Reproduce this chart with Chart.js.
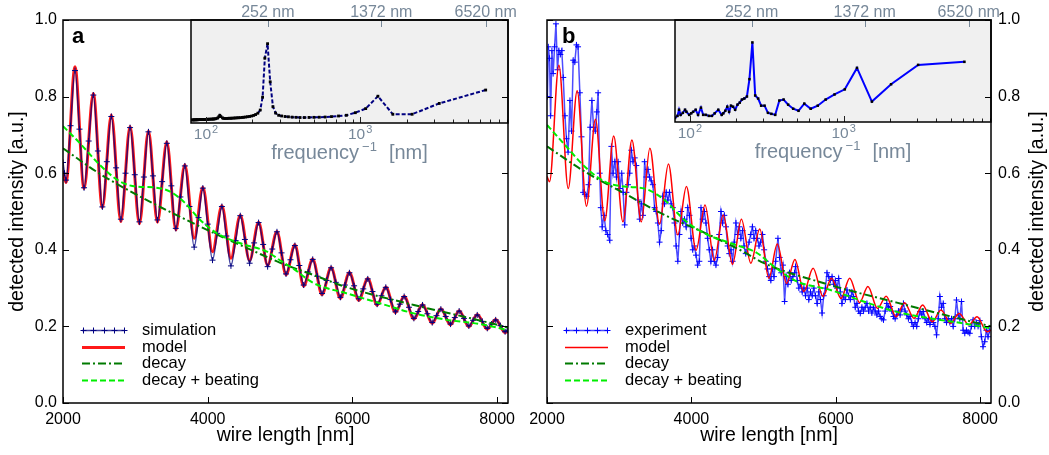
<!DOCTYPE html>
<html>
<head>
<meta charset="utf-8">
<title>Detected intensity vs wire length</title>
<script src="https://cdn.jsdelivr.net/npm/chart.js@4.4.1/dist/chart.umd.min.js"></script>
<style>
  html, body { margin: 0; padding: 0; background: #fff; }
  #figure { position: relative; width: 1049px; height: 455px; overflow: hidden; }
  #figure canvas { position: absolute; top: 0; }
</style>
</head>
<body>
<div id="figure">
  <canvas id="inset-a" width="350" height="180" style="left:180px"></canvas>
  <canvas id="inset-b" width="389" height="180" style="left:660px"></canvas>
  <canvas id="panel-a" width="530" height="455" style="left:0px"></canvas>
  <canvas id="panel-b" width="519" height="455" style="left:530px"></canvas>
</div>
<script>
const FONT = "'Liberation Sans', Arial, Helvetica, sans-serif";
const INSET_GREY = '#778899';

// axis ticks
const lengthTicks = [2000, 4000, 6000, 8000];
const intensityTicks = [0, 0.2, 0.4, 0.6, 0.8, 1.0];
const periodTicks = [100, 200, 300, 400, 500, 600, 700, 800, 900,
  1000, 2000, 3000, 4000, 5000, 6000, 7000, 8000, 9000];
const periodDecades = [100, 1000];
const markedPeriods = [252, 1372, 6520];
const markedPeriodLabels = ['252 nm', '1372 nm', '6520 nm'];

// panel a: simulated wire, [length nm, intensity]
const simulation = [
  [2000, 0.628], [2021, 0.600], [2042, 0.582], [2104, 0.724], [2166, 0.868], [2228, 0.715],
  [2291, 0.562], [2355, 0.684], [2419, 0.804], [2482, 0.658], [2544, 0.512], [2606, 0.630],
  [2668, 0.748], [2734, 0.614], [2800, 0.480], [2864, 0.600], [2927, 0.719], [2992, 0.596],
  [3056, 0.473], [3118, 0.590], [3181, 0.708], [3243, 0.593], [3305, 0.478], [3370, 0.578],
  [3435, 0.678], [3497, 0.567], [3559, 0.456], [3622, 0.538], [3684, 0.619], [3748, 0.513],
  [3813, 0.407], [3873, 0.484], [3933, 0.561], [4000, 0.467], [4066, 0.373], [4131, 0.443],
  [4196, 0.513], [4258, 0.436], [4321, 0.358], [4385, 0.424], [4450, 0.489], [4514, 0.427],
  [4579, 0.365], [4641, 0.418], [4703, 0.471], [4766, 0.414], [4828, 0.356], [4892, 0.402],
  [4957, 0.447], [5020, 0.392], [5082, 0.337], [5144, 0.374], [5205, 0.411], [5266, 0.359],
  [5326, 0.308], [5388, 0.342], [5451, 0.375], [5515, 0.331], [5580, 0.286], [5643, 0.320],
  [5705, 0.353], [5770, 0.315], [5834, 0.276], [5896, 0.308], [5958, 0.340], [6023, 0.306],
  [6088, 0.272], [6150, 0.298], [6212, 0.324], [6277, 0.291], [6342, 0.258], [6401, 0.280],
  [6461, 0.302], [6528, 0.270], [6595, 0.238], [6655, 0.258], [6715, 0.278], [6782, 0.250],
  [6849, 0.221], [6909, 0.239], [6969, 0.256], [7036, 0.233], [7103, 0.210], [7162, 0.228],
  [7222, 0.245], [7289, 0.226], [7356, 0.206], [7415, 0.223], [7475, 0.240], [7542, 0.221],
  [7609, 0.201], [7667, 0.216], [7725, 0.230], [7795, 0.213], [7864, 0.195], [7922, 0.206],
  [7980, 0.217], [8045, 0.202], [8110, 0.186], [8140, 0.190],
];
const modelA = [
  [2000, 0.605], [2042, 0.576], [2166, 0.878], [2291, 0.560], [2419, 0.808], [2544, 0.510],
  [2668, 0.752], [2800, 0.474], [2927, 0.722], [3056, 0.468], [3181, 0.710], [3305, 0.472],
  [3435, 0.682], [3559, 0.452], [3684, 0.622], [3813, 0.430], [3933, 0.563], [4066, 0.395],
  [4196, 0.515], [4321, 0.378], [4450, 0.490], [4579, 0.372], [4703, 0.472], [4828, 0.360],
  [4957, 0.448], [5082, 0.335], [5205, 0.413], [5326, 0.305], [5451, 0.376], [5580, 0.283],
  [5705, 0.354], [5834, 0.273], [5958, 0.341], [6088, 0.268], [6212, 0.325], [6342, 0.255],
  [6461, 0.303], [6595, 0.236], [6715, 0.279], [6849, 0.219], [6969, 0.257], [7103, 0.208],
  [7222, 0.246], [7356, 0.204], [7475, 0.241], [7609, 0.199], [7725, 0.231], [7864, 0.193],
  [7980, 0.218], [8110, 0.184], [8150, 0.188],
];
const decayA = [
  [2000, 0.665], [2512, 0.598], [3066, 0.539], [3619, 0.486], [4173, 0.436], [4726, 0.389],
  [5003, 0.366], [5464, 0.334], [5926, 0.302], [6849, 0.256], [7771, 0.215], [8150, 0.197],
];
const beatingA = [
  [2000, 0.723], [2235, 0.678], [2512, 0.621], [2789, 0.578], [3020, 0.565], [3250, 0.563],
  [3481, 0.552], [3665, 0.526], [3896, 0.478], [4127, 0.443], [4450, 0.417], [4819, 0.395],
  [5003, 0.372], [5188, 0.350], [5464, 0.313], [5926, 0.286], [6387, 0.260], [6849, 0.234],
  [7310, 0.217], [7771, 0.206], [8150, 0.190],
];

// panel b: measured wire, [length nm, intensity]
const experiment = [
  [2005, 0.80], [2018, 0.93], [2035, 0.90], [2050, 0.75], [2068, 0.92], [2085, 0.86],
  [2105, 0.93], [2124, 0.99], [2145, 0.87], [2165, 0.92], [2185, 0.91], [2205, 0.92],
  [2225, 0.85], [2248, 0.75], [2270, 0.69], [2292, 0.655], [2318, 0.79], [2340, 0.71],
  [2363, 0.895], [2385, 0.89], [2408, 0.935], [2430, 0.93], [2455, 0.81], [2478, 0.695],
  [2501, 0.55], [2525, 0.545], [2550, 0.54], [2575, 0.57], [2598, 0.72], [2622, 0.79],
  [2645, 0.72], [2668, 0.71], [2690, 0.76], [2708, 0.81], [2730, 0.60], [2745, 0.51],
  [2765, 0.46], [2790, 0.49], [2815, 0.45], [2840, 0.44], [2868, 0.425], [2892, 0.67],
  [2915, 0.60], [2940, 0.63], [2962, 0.59], [2985, 0.63], [3010, 0.56], [3035, 0.60],
  [3055, 0.55], [3076, 0.465], [3100, 0.55], [3122, 0.57], [3145, 0.60], [3168, 0.66],
  [3192, 0.63], [3215, 0.64], [3237, 0.62], [3260, 0.53], [3283, 0.48], [3306, 0.52],
  [3330, 0.49], [3352, 0.63], [3375, 0.59], [3398, 0.61], [3421, 0.59], [3444, 0.58],
  [3467, 0.57], [3490, 0.51], [3513, 0.50], [3536, 0.47], [3559, 0.42], [3582, 0.45],
  [3605, 0.54], [3628, 0.52], [3651, 0.55], [3674, 0.53], [3697, 0.55], [3720, 0.52],
  [3743, 0.51], [3766, 0.47], [3789, 0.41], [3812, 0.37], [3835, 0.44], [3858, 0.50],
  [3881, 0.47], [3904, 0.48], [3927, 0.46], [3950, 0.51], [3973, 0.49], [3996, 0.43],
  [4019, 0.40], [4042, 0.41], [4064, 0.386], [4087, 0.36], [4110, 0.37], [4133, 0.51],
  [4156, 0.48], [4179, 0.50], [4202, 0.47], [4225, 0.43], [4248, 0.40], [4270, 0.37],
  [4293, 0.40], [4317, 0.37], [4340, 0.36], [4363, 0.38], [4386, 0.44], [4410, 0.50],
  [4433, 0.47], [4456, 0.49], [4479, 0.46], [4502, 0.41], [4525, 0.39], [4548, 0.40],
  [4571, 0.37], [4594, 0.42], [4617, 0.47], [4640, 0.44], [4663, 0.46], [4686, 0.43],
  [4709, 0.45], [4730, 0.41], [4753, 0.39], [4776, 0.40], [4799, 0.42], [4822, 0.44],
  [4845, 0.46], [4868, 0.43], [4891, 0.45], [4914, 0.43], [4937, 0.41], [4960, 0.42],
  [4985, 0.44], [5008, 0.40], [5031, 0.37], [5054, 0.35], [5077, 0.33], [5100, 0.32],
  [5122, 0.35], [5144, 0.33], [5167, 0.37], [5199, 0.43], [5222, 0.38], [5245, 0.34],
  [5268, 0.36], [5291, 0.265], [5314, 0.33], [5337, 0.31], [5360, 0.34], [5383, 0.32],
  [5406, 0.33], [5429, 0.34], [5443, 0.356], [5466, 0.32], [5489, 0.30], [5512, 0.31],
  [5535, 0.29], [5558, 0.30], [5581, 0.28], [5604, 0.30], [5627, 0.27], [5650, 0.29],
  [5673, 0.28], [5696, 0.30], [5719, 0.28], [5742, 0.26], [5765, 0.29], [5788, 0.27],
  [5810, 0.235], [5833, 0.28], [5856, 0.30], [5879, 0.34], [5902, 0.33], [5925, 0.32],
  [5948, 0.33], [5971, 0.31], [5994, 0.32], [6017, 0.30], [6040, 0.325], [6063, 0.29],
  [6086, 0.26], [6109, 0.28], [6132, 0.27], [6155, 0.295], [6178, 0.28], [6201, 0.27],
  [6224, 0.29], [6247, 0.278], [6270, 0.25], [6293, 0.26], [6316, 0.24], [6339, 0.234],
  [6362, 0.25], [6385, 0.24], [6408, 0.25], [6431, 0.26], [6454, 0.24], [6477, 0.25],
  [6500, 0.235], [6523, 0.25], [6546, 0.24], [6569, 0.23], [6592, 0.24], [6615, 0.226],
  [6638, 0.22], [6661, 0.217], [6684, 0.24], [6707, 0.26], [6730, 0.25], [6753, 0.252],
  [6776, 0.24], [6799, 0.226], [6822, 0.22], [6845, 0.23], [6868, 0.24], [6891, 0.23],
  [6914, 0.245], [6937, 0.26], [6960, 0.24], [6983, 0.23], [7006, 0.22], [7029, 0.226],
  [7052, 0.21], [7075, 0.20], [7098, 0.21], [7121, 0.20], [7144, 0.22], [7167, 0.239],
  [7190, 0.23], [7213, 0.239], [7236, 0.22], [7259, 0.21], [7282, 0.22], [7305, 0.205],
  [7328, 0.22], [7351, 0.21], [7374, 0.20], [7396, 0.178], [7419, 0.22], [7442, 0.278],
  [7465, 0.25], [7488, 0.26], [7511, 0.22], [7534, 0.21], [7557, 0.22], [7580, 0.21],
  [7603, 0.22], [7626, 0.20], [7649, 0.22], [7672, 0.269], [7695, 0.23], [7718, 0.22],
  [7741, 0.265], [7764, 0.19], [7787, 0.182], [7810, 0.19], [7833, 0.185], [7856, 0.182],
  [7879, 0.20], [7902, 0.217], [7925, 0.20], [7948, 0.21], [7971, 0.20], [7994, 0.215],
  [8017, 0.173], [8040, 0.147], [8063, 0.16], [8086, 0.19], [8109, 0.173], [8132, 0.19],
];
const modelB = [
  [2000, 0.592], [2035, 0.578], [2165, 0.882], [2294, 0.560], [2418, 0.815], [2547, 0.514],
  [2671, 0.741], [2800, 0.476], [2924, 0.697], [3052, 0.473], [3176, 0.687], [3306, 0.473],
  [3425, 0.665], [3558, 0.467], [3682, 0.624], [3811, 0.439], [3931, 0.565], [4065, 0.399],
  [4189, 0.517], [4317, 0.372], [4441, 0.491], [4569, 0.362], [4693, 0.480], [4823, 0.365],
  [4947, 0.454], [5073, 0.326], [5190, 0.415], [5319, 0.312], [5434, 0.375], [5558, 0.291],
  [5686, 0.352], [5824, 0.278], [5940, 0.326], [6073, 0.273], [6192, 0.326], [6330, 0.262],
  [6445, 0.304], [6578, 0.247], [6698, 0.279], [6836, 0.225], [6951, 0.262], [7084, 0.221],
  [7203, 0.256], [7337, 0.212], [7457, 0.243], [7590, 0.208], [7709, 0.234], [7843, 0.204],
  [7957, 0.225], [8095, 0.186], [8150, 0.190],
];
const decayB = [
  [2000, 0.670], [2524, 0.604], [3076, 0.547], [3627, 0.491], [4179, 0.445], [4730, 0.394],
  [5006, 0.365], [5926, 0.308], [6845, 0.262], [7764, 0.218], [8150, 0.200],
];
const beatingB = [
  [2000, 0.726], [2248, 0.674], [2524, 0.617], [2800, 0.578], [3076, 0.565], [3351, 0.560],
  [3627, 0.530], [3903, 0.478], [4179, 0.443], [4547, 0.417], [4914, 0.391], [5144, 0.356],
  [5466, 0.317], [5926, 0.295], [6385, 0.265], [6845, 0.238], [7305, 0.221], [7764, 0.208],
  [8150, 0.195],
];

// Fourier spectra shown in the insets: period (nm) and amplitude (a.u.)
const spectrumPeriodA = [6520, 3260, 2173, 1630, 1304, 1087, 931, 815, 724, 652, 593, 543, 502,
  466, 435, 408, 384, 362, 343, 326, 310, 296, 283, 272, 261, 251, 241, 233, 225, 217, 210, 204,
  198, 192, 186, 181, 176, 172, 167, 163, 159, 155, 152, 148, 145, 142, 139, 136, 133, 130, 128,
  125, 123, 121, 119, 116, 114, 112, 111, 109, 107, 105, 103, 102, 100, 99, 97, 96, 94, 93, 92,
  91, 89, 88, 87, 86, 85, 84, 83, 82, 80];
const spectrumAmpA = [0.32, 0.19, 0.085, 0.085, 0.26, 0.14, 0.10, 0.075, 0.068, 0.062, 0.058,
  0.056, 0.055, 0.054, 0.053, 0.053, 0.055, 0.057, 0.060, 0.063, 0.068, 0.075, 0.097, 0.158,
  0.40, 0.77, 0.63, 0.25, 0.126, 0.095, 0.082, 0.074, 0.068, 0.064, 0.061, 0.058, 0.056, 0.054,
  0.052, 0.051, 0.050, 0.049, 0.048, 0.047, 0.046, 0.046, 0.045, 0.044, 0.044, 0.045, 0.050,
  0.062, 0.075, 0.060, 0.048, 0.042, 0.040, 0.039, 0.038, 0.038, 0.037, 0.037, 0.036, 0.036,
  0.035, 0.035, 0.034, 0.034, 0.034, 0.033, 0.033, 0.033, 0.032, 0.032, 0.032, 0.031, 0.031,
  0.031, 0.030, 0.030, 0.030];
const spectrumPeriodB = [6110, 3055, 2037, 1528, 1222, 1018, 873, 764, 679, 611, 555, 509, 470,
  436, 407, 382, 359, 339, 322, 306, 291, 278, 266, 255, 244, 235, 226, 218, 211, 204, 197, 191,
  185, 180, 175, 170, 165, 161, 153, 145, 139, 133, 127, 122, 118, 113, 109, 105, 102, 99, 95,
  93, 90, 87, 85, 83, 80];
const spectrumAmpB = [0.59, 0.56, 0.37, 0.20, 0.53, 0.32, 0.27, 0.22, 0.16, 0.13, 0.18, 0.11,
  0.13, 0.17, 0.22, 0.21, 0.07, 0.08, 0.09, 0.16, 0.16, 0.23, 0.26, 0.78, 0.42, 0.25, 0.23, 0.22,
  0.19, 0.17, 0.12, 0.15, 0.16, 0.10, 0.15, 0.11, 0.085, 0.07, 0.12, 0.085, 0.06, 0.06, 0.07,
  0.07, 0.14, 0.07, 0.12, 0.10, 0.085, 0.07, 0.10, 0.12, 0.09, 0.07, 0.12, 0.06, 0.04];

Chart.defaults.font.family = FONT;
Chart.defaults.font.size = 16;
Chart.defaults.color = '#000';

const toPoints = (pairs) => pairs.map(([x, y]) => ({ x, y }));

// draws "base^exp" centred on cx
function drawPower(ctx, base, exp, cx, baseline, size, supSize) {
  ctx.font = `${size}px ${FONT}`;
  const wb = ctx.measureText(base).width;
  ctx.font = `${supSize}px ${FONT}`;
  const we = ctx.measureText(exp).width;
  const x0 = cx - (wb + we + 1) / 2;
  ctx.textAlign = 'left';
  ctx.font = `${size}px ${FONT}`;
  ctx.fillText(base, x0, baseline);
  ctx.font = `${supSize}px ${FONT}`;
  ctx.fillText(exp, x0 + wb + 1, baseline - 6);
}

// frame with inward ticks, rotated y title, panel letter and legend
const panelDecor = {
  id: 'panelDecor',
  afterDraw(chart, args, opts) {
    const { ctx, chartArea: a, scales: { x, y } } = chart;
    ctx.save();
    ctx.strokeStyle = '#000';
    ctx.lineWidth = 1;
    ctx.beginPath();
    lengthTicks.forEach((v) => {
      const px = Math.round(x.getPixelForValue(v)) + 0.5;
      ctx.moveTo(px, a.bottom);
      ctx.lineTo(px, a.bottom - 6);
    });
    intensityTicks.forEach((v) => {
      const py = Math.round(y.getPixelForValue(v)) + 0.5;
      ctx.moveTo(a.left, py);
      ctx.lineTo(a.left + 6, py);
      ctx.moveTo(a.right, py);
      ctx.lineTo(a.right - 6, py);
    });
    ctx.stroke();
    ctx.lineWidth = 1.5;
    ctx.strokeRect(a.left, a.top, a.width, a.height);

    ctx.fillStyle = '#000';
    ctx.save();
    ctx.translate(opts.titleX, (a.top + a.bottom) / 2);
    ctx.rotate(-Math.PI / 2);
    ctx.font = `19.5px ${FONT}`;
    ctx.textAlign = 'center';
    ctx.textBaseline = 'middle';
    ctx.fillText('detected intensity [a.u.]', 0, 0);
    ctx.restore();

    ctx.font = `bold 22px ${FONT}`;
    ctx.textAlign = 'left';
    ctx.textBaseline = 'alphabetic';
    ctx.fillText(opts.letter, a.left + opts.letterDx, a.top + 23);

    ctx.font = `16.5px ${FONT}`;
    ctx.textBaseline = 'middle';
    opts.legend.forEach((idx, i) => {
      const ds = chart.data.datasets[idx];
      const ly = Math.round(opts.legendTop + i * 16.7) + 0.5;
      const lx = a.left + opts.legendDx;
      ctx.strokeStyle = ds.borderColor;
      ctx.lineWidth = ds.borderWidth;
      ctx.setLineDash(ds.borderDash || []);
      ctx.beginPath();
      ctx.moveTo(lx, ly);
      ctx.lineTo(lx + 43, ly);
      ctx.stroke();
      ctx.setLineDash([]);
      if (ds.pointStyle === 'cross') {
        ctx.strokeStyle = ds.pointBorderColor;
        ctx.lineWidth = 1;
        ctx.beginPath();
        for (let k = 0; k < 5; k++) {
          const mx = Math.round(lx + 1 + k * 10.25) + 0.5;
          ctx.moveTo(mx - 3, ly);
          ctx.lineTo(mx + 3, ly);
          ctx.moveTo(mx, ly - 3);
          ctx.lineTo(mx, ly + 3);
        }
        ctx.stroke();
      }
      ctx.fillStyle = '#000';
      ctx.fillText(ds.label, lx + 60, ly);
    });
    ctx.restore();
  },
};

// grey box, log ticks and labels of a spectrum inset
const insetDecor = {
  id: 'insetDecor',
  beforeDatasetsDraw(chart) {
    const { ctx, chartArea: a } = chart;
    ctx.save();
    ctx.fillStyle = '#f0f0f0';
    ctx.fillRect(a.left, a.top, a.width, a.height);
    ctx.restore();
  },
  afterDraw(chart) {
    const { ctx, chartArea: a, scales: { x } } = chart;
    ctx.save();
    ctx.strokeStyle = '#222';
    ctx.lineWidth = 1;
    ctx.beginPath();
    periodTicks.forEach((v) => {
      const px = Math.round(x.getPixelForValue(v)) + 0.5;
      const len = periodDecades.includes(v) ? 6 : 3.5;
      ctx.moveTo(px, a.bottom);
      ctx.lineTo(px, a.bottom - len);
    });
    ctx.stroke();
    ctx.strokeStyle = INSET_GREY;
    ctx.beginPath();
    markedPeriods.forEach((v) => {
      const px = Math.round(x.getPixelForValue(v)) + 0.5;
      ctx.moveTo(px, a.top);
      ctx.lineTo(px, a.top + 7);
    });
    ctx.stroke();
    ctx.strokeStyle = '#000';
    ctx.lineWidth = 1.5;
    ctx.strokeRect(a.left, a.top, a.width, a.height);

    ctx.fillStyle = INSET_GREY;
    ctx.textBaseline = 'alphabetic';
    ctx.textAlign = 'center';
    ctx.font = `16px ${FONT}`;
    markedPeriods.forEach((v, i) => {
      ctx.fillText(markedPeriodLabels[i], x.getPixelForValue(v), a.top - 3);
    });
    periodDecades.forEach((v) => {
      drawPower(ctx, '10', String(Math.round(Math.log10(v))), x.getPixelForValue(v), a.bottom + 16, 15.5, 11);
    });

    // frequency^-1 [nm]
    const parts = [
      { t: 'frequency', size: 20, dy: 0, gap: 0 },
      { t: '\u22121', size: 13, dy: -8, gap: 3 },
      { t: '[nm]', size: 20, dy: 0, gap: 12 },
    ];
    let total = 0;
    parts.forEach((p) => {
      ctx.font = `${p.size}px ${FONT}`;
      p.w = ctx.measureText(p.t).width;
      total += p.gap + p.w;
    });
    let cx = (a.left + a.right) / 2 - total / 2;
    ctx.textAlign = 'left';
    parts.forEach((p) => {
      cx += p.gap;
      ctx.font = `${p.size}px ${FONT}`;
      ctx.fillText(p.t, cx, a.bottom + 36 + p.dy);
      cx += p.w;
    });
    ctx.restore();
  },
};

function lengthAxis() {
  return {
    type: 'linear',
    min: 2000,
    max: 8150,
    grid: { display: false, drawTicks: false },
    border: { display: false },
    afterBuildTicks: (s) => { s.ticks = lengthTicks.map((v) => ({ value: v })); },
    ticks: { padding: 7, maxRotation: 0, callback: (v) => String(v) },
    title: { display: true, text: 'wire length [nm]', font: { size: 19.5 }, padding: { top: 0, bottom: 8 } },
    afterFit: (s) => { s.height = 52; s.paddingLeft = 0; s.paddingRight = 0; },
  };
}

function intensityAxis(position, width, pad) {
  return {
    type: 'linear',
    position,
    min: 0,
    max: 1,
    grid: { display: false, drawTicks: false },
    border: { display: false },
    afterBuildTicks: (s) => { s.ticks = intensityTicks.map((v) => ({ value: v })); },
    ticks: { padding: pad, callback: (v) => v.toFixed(1) },
    afterFit: (s) => { s.width = width; s.paddingTop = 0; s.paddingBottom = 0; },
  };
}

function mainChart(id, datasets, yPosition, padding, yWidth, yPad, decor) {
  return new Chart(document.getElementById(id), {
    type: 'line',
    data: { datasets },
    options: {
      responsive: false,
      animation: false,
      events: [],
      layout: { autoPadding: false, padding },
      plugins: { legend: { display: false }, tooltip: { enabled: false }, panelDecor: decor },
      scales: { x: lengthAxis(), y: intensityAxis(yPosition, yWidth, yPad) },
    },
    plugins: [panelDecor],
  });
}

function insetChart(id, periods, amps, lineStyle, padding) {
  return new Chart(document.getElementById(id), {
    type: 'line',
    data: {
      datasets: [Object.assign({
        data: periods.map((p, i) => ({ x: p, y: amps[i] })),
        tension: 0,
        fill: false,
        pointStyle: 'rect',
        pointRadius: 2,
        pointBorderWidth: 0,
        pointBackgroundColor: '#000',
      }, lineStyle)],
    },
    options: {
      responsive: false,
      animation: false,
      events: [],
      layout: { autoPadding: false, padding },
      plugins: { legend: { display: false }, tooltip: { enabled: false } },
      scales: {
        x: { type: 'logarithmic', min: 80, max: 9100, display: false },
        y: { type: 'linear', min: 0, max: 1, display: false },
      },
    },
    plugins: [insetDecor],
  });
}

insetChart('inset-a', spectrumPeriodA, spectrumAmpA,
  { borderColor: '#000080', borderWidth: 2, borderDash: [4, 2] },
  { left: 11, right: 22, top: 20, bottom: 57 });
insetChart('inset-b', spectrumPeriodB, spectrumAmpB,
  { borderColor: '#0000ff', borderWidth: 2, pointRadius: 1.8 },
  { left: 15, right: 58, top: 20, bottom: 58 });

// datasets listed top-most first
mainChart('panel-a', [
  { label: 'decay + beating', data: toPoints(beatingA), borderColor: '#00ee00', borderWidth: 2,
    borderDash: [6, 3], pointRadius: 0, cubicInterpolationMode: 'monotone' },
  { label: 'decay', data: toPoints(decayA), borderColor: '#007a00', borderWidth: 2,
    borderDash: [8, 3, 2, 3], pointRadius: 0, cubicInterpolationMode: 'monotone' },
  { label: 'simulation', data: toPoints(simulation), borderColor: 'rgba(0,0,128,0.75)', borderWidth: 1.5,
    pointStyle: 'cross', pointRadius: 3, pointBorderWidth: 1, pointBorderColor: '#000080',
    cubicInterpolationMode: 'monotone' },
  { label: 'model', data: toPoints(modelA), borderColor: 'rgba(255,0,0,0.9)', borderWidth: 3,
    pointRadius: 0, cubicInterpolationMode: 'monotone' },
], 'left', { left: 0, right: 22, top: 20, bottom: 0 }, 63, 6,
{ titleX: 18, letter: 'a', letterDx: 9, legend: [2, 3, 1, 0], legendDx: 19, legendTop: 330 });

mainChart('panel-b', [
  { label: 'decay + beating', data: toPoints(beatingB), borderColor: '#00ee00', borderWidth: 2,
    borderDash: [6, 3], pointRadius: 0, cubicInterpolationMode: 'monotone' },
  { label: 'decay', data: toPoints(decayB), borderColor: '#007a00', borderWidth: 2,
    borderDash: [8, 3, 2, 3], pointRadius: 0, cubicInterpolationMode: 'monotone' },
  { label: 'model', data: toPoints(modelB), borderColor: '#ff0000', borderWidth: 1.5,
    pointRadius: 0, cubicInterpolationMode: 'monotone' },
  { label: 'experiment', data: toPoints(experiment), borderColor: 'rgba(0,0,255,0.7)', borderWidth: 1.5,
    pointStyle: 'cross', pointRadius: 3, pointBorderWidth: 1, pointBorderColor: '#0000ff', tension: 0 },
], 'right', { left: 17, right: 0, top: 20, bottom: 0 }, 58, 7,
{ titleX: 508, letter: 'b', letterDx: 15, legend: [3, 2, 1, 0], legendDx: 18, legendTop: 330 });
</script>
</body>
</html>
